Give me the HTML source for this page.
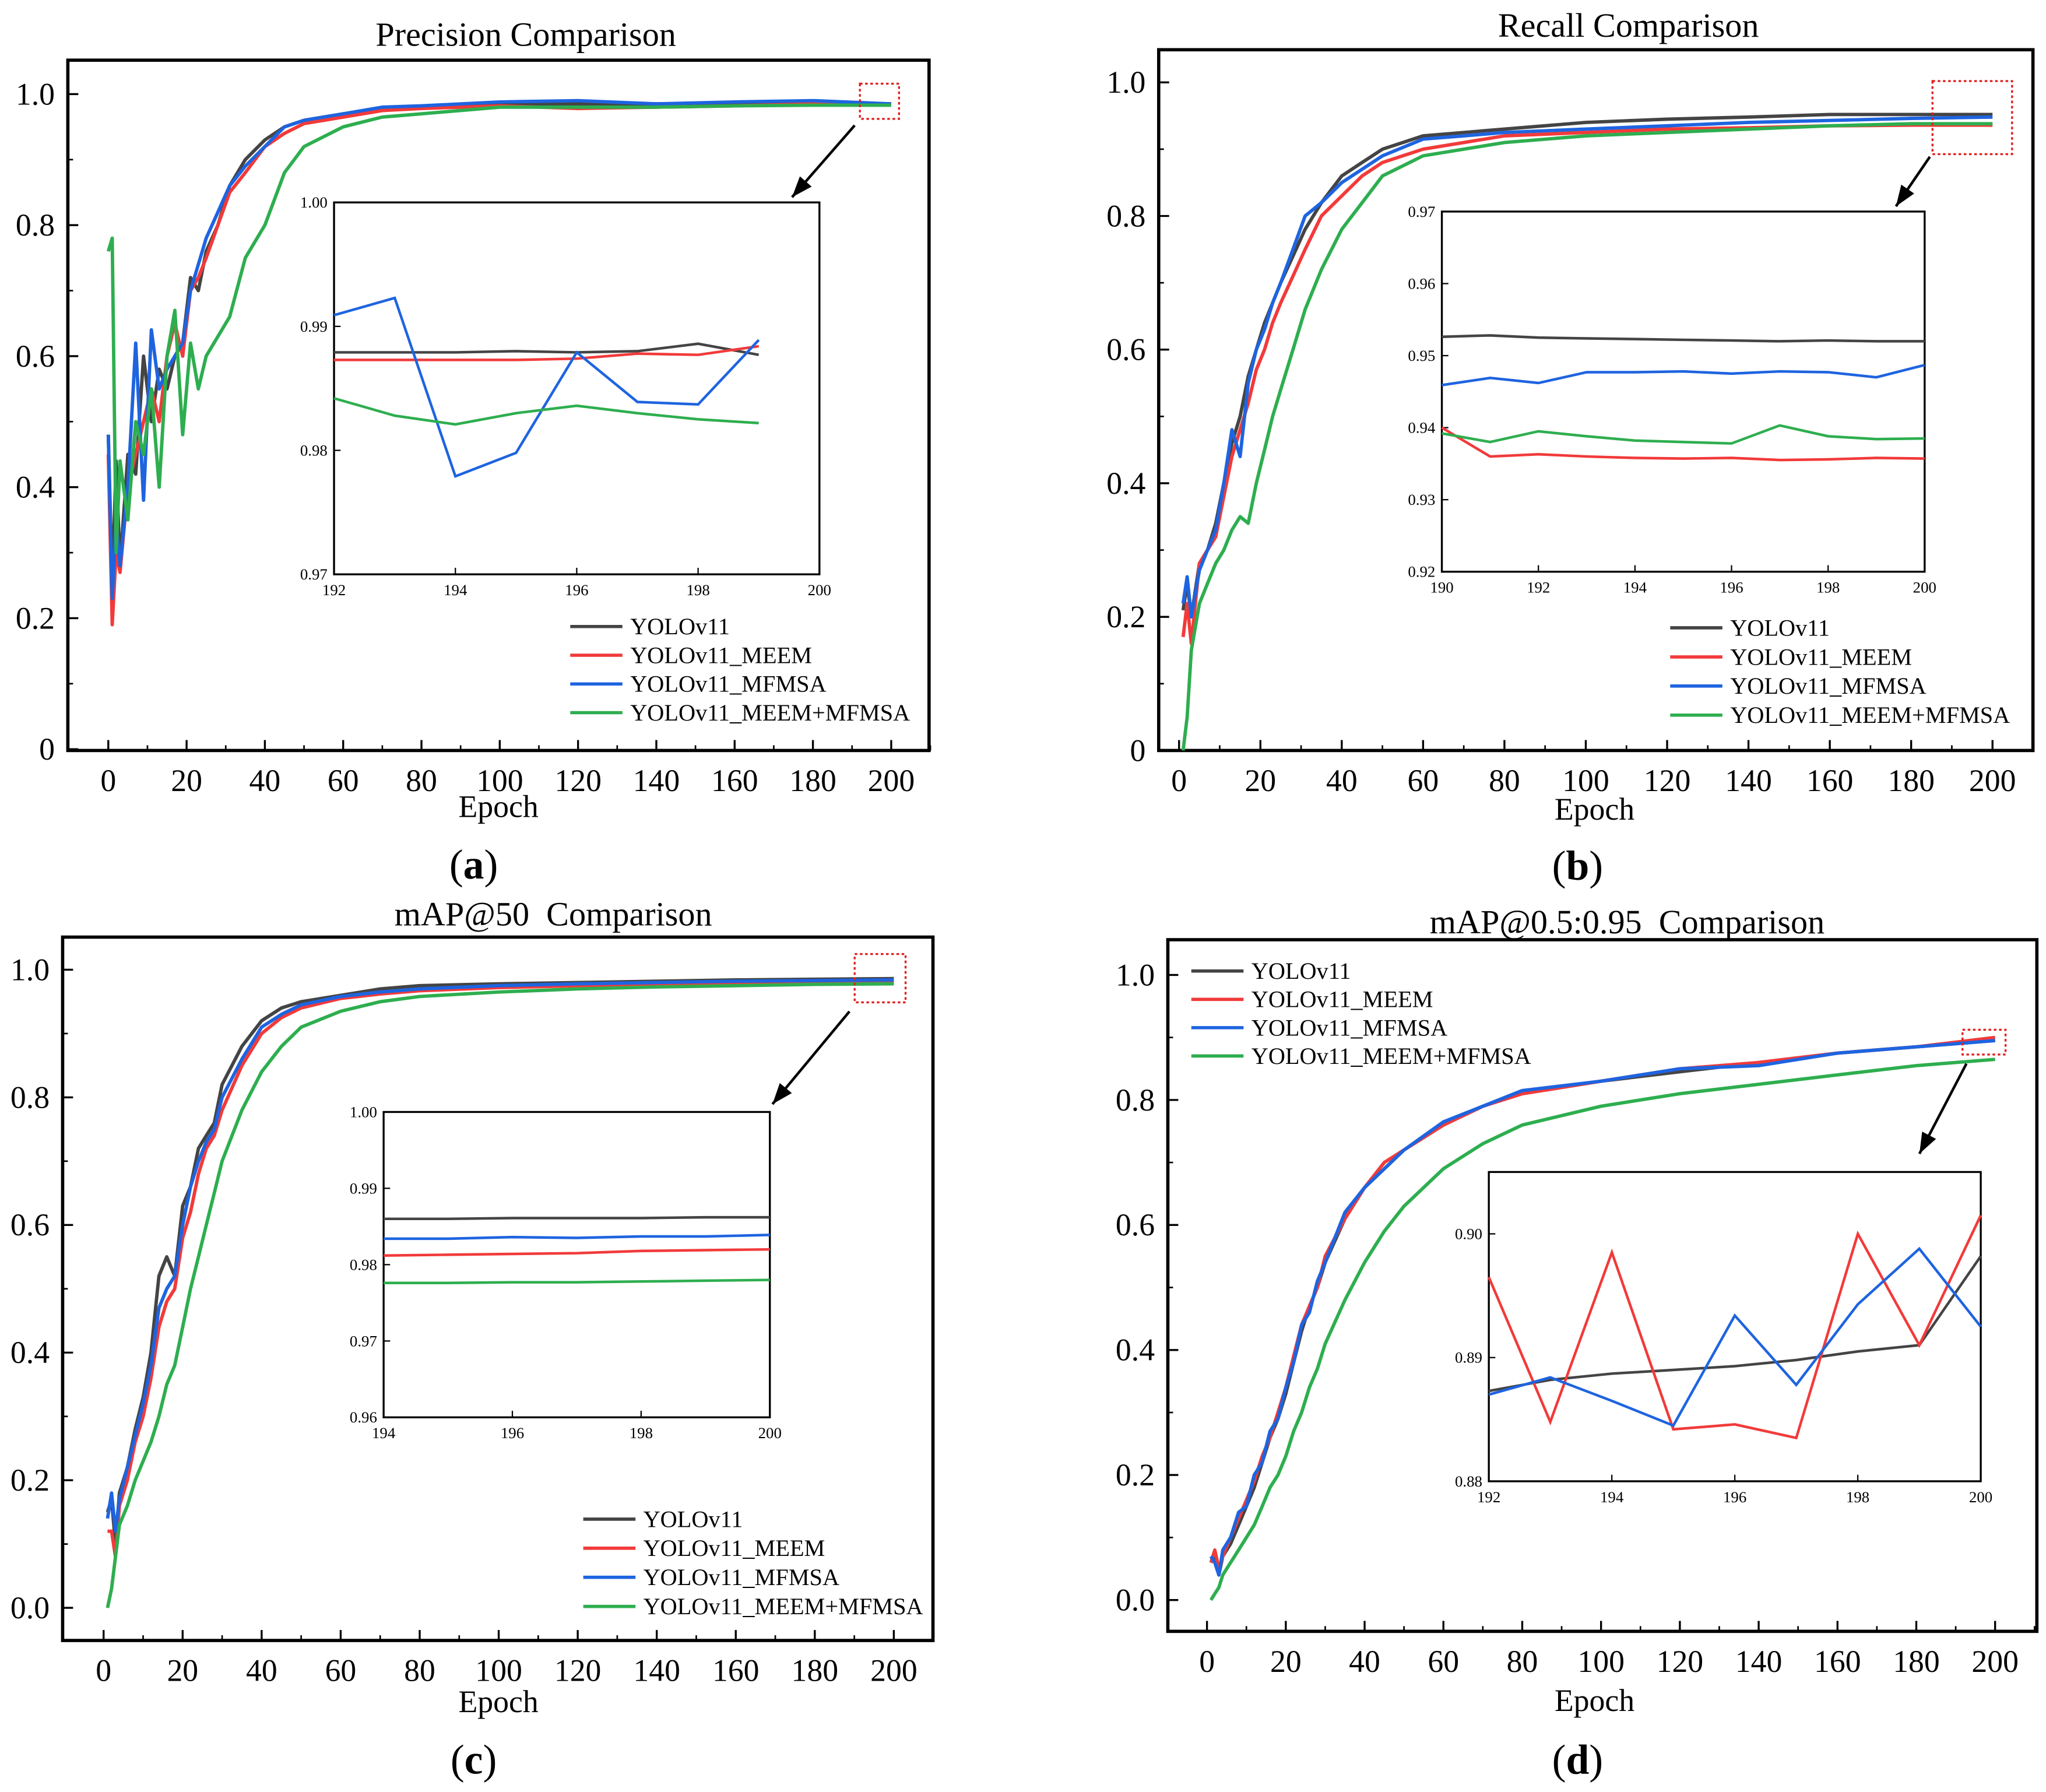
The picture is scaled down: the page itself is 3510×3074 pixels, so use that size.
<!DOCTYPE html>
<html><head><meta charset="utf-8"><style>
html,body{margin:0;padding:0;background:#fff}
svg{display:block;font-family:"Liberation Serif",serif}
text{white-space:pre}
</style></head><body>
<svg id="fig" width="3510" height="3074" viewBox="0 0 1568 1373" xmlns="http://www.w3.org/2000/svg"></svg>
<script>
const seriesNames=["YOLOv11","YOLOv11_MEEM","YOLOv11_MFMSA","YOLOv11_MEEM+MFMSA"];
const xTicks=[0,20,40,60,80,100,120,140,160,180,200];
// (a) precision
const epochsA=[0,1,2,3,5,7,9,11,13,15,17,19,21,23,25,28,31,35,40,45,50,60,70,80,100,120,140,160,180,200];
const precYolo=[0.48,0.25,0.44,0.28,0.45,0.42,0.6,0.5,0.58,0.55,0.6,0.62,0.72,0.7,0.76,0.8,0.86,0.9,0.93,0.95,0.96,0.97,0.975,0.98,0.985,0.985,0.985,0.985,0.988,0.985];
const precMeem=[0.45,0.19,0.3,0.27,0.4,0.45,0.5,0.55,0.5,0.6,0.65,0.6,0.7,0.72,0.75,0.8,0.85,0.88,0.92,0.94,0.955,0.965,0.975,0.978,0.982,0.978,0.98,0.982,0.985,0.985];
const precMfmsa=[0.48,0.23,0.35,0.28,0.4,0.62,0.38,0.64,0.55,0.58,0.6,0.62,0.7,0.74,0.78,0.82,0.86,0.89,0.92,0.95,0.96,0.97,0.98,0.982,0.988,0.99,0.985,0.988,0.99,0.985];
const precBoth=[0.76,0.78,0.3,0.44,0.35,0.5,0.45,0.55,0.4,0.6,0.67,0.48,0.62,0.55,0.6,0.63,0.66,0.75,0.8,0.88,0.92,0.95,0.965,0.97,0.98,0.98,0.98,0.982,0.983,0.983];
const insetEpochsA=[192,193,194,195,196,197,198,199];
const insPrecYolo=[0.9879,0.9879,0.9879,0.988,0.9879,0.988,0.9886,0.9877];
const insPrecMeem=[0.9873,0.9873,0.9873,0.9873,0.9874,0.9878,0.9877,0.9884];
const insPrecMfmsa=[0.9909,0.9923,0.9779,0.9798,0.9879,0.9839,0.9837,0.9889];
const insPrecBoth=[0.9842,0.9828,0.9821,0.983,0.9836,0.983,0.9825,0.9822];
// (b) recall
const epochsB=[1,2,3,5,7,9,11,13,15,17,19,21,23,25,28,31,35,40,45,50,60,70,80,100,120,140,160,180,200];
const recYolo=[0.21,0.25,0.2,0.28,0.3,0.34,0.4,0.46,0.5,0.56,0.6,0.64,0.67,0.7,0.74,0.78,0.82,0.86,0.88,0.9,0.92,0.925,0.93,0.94,0.945,0.948,0.952,0.952,0.952];
const recMeem=[0.17,0.22,0.16,0.28,0.3,0.32,0.38,0.44,0.48,0.52,0.57,0.6,0.64,0.67,0.71,0.75,0.8,0.83,0.86,0.88,0.9,0.91,0.92,0.925,0.93,0.932,0.935,0.936,0.936];
const recMfmsa=[0.22,0.26,0.2,0.27,0.3,0.33,0.4,0.48,0.44,0.55,0.6,0.63,0.67,0.7,0.75,0.8,0.82,0.85,0.87,0.89,0.915,0.92,0.925,0.93,0.935,0.94,0.943,0.946,0.948];
const recBoth=[0.0,0.05,0.15,0.22,0.25,0.28,0.3,0.33,0.35,0.34,0.4,0.45,0.5,0.54,0.6,0.66,0.72,0.78,0.82,0.86,0.89,0.9,0.91,0.92,0.925,0.93,0.935,0.938,0.938];
const insetEpochsB=[190,191,192,193,194,195,196,197,198,199,200];
const insRecYolo=[0.9526,0.9528,0.9525,0.9524,0.9523,0.9522,0.9521,0.952,0.9521,0.952,0.952];
const insRecMeem=[0.94,0.936,0.9363,0.936,0.9358,0.9357,0.9358,0.9355,0.9356,0.9358,0.9357];
const insRecMfmsa=[0.9459,0.9469,0.9462,0.9477,0.9477,0.9478,0.9475,0.9478,0.9477,0.947,0.9487];
const insRecBoth=[0.9392,0.938,0.9395,0.9388,0.9382,0.938,0.9378,0.9403,0.9388,0.9384,0.9385];
// (c) mAP50
const epochsC=[1,2,3,4,6,8,10,12,14,16,18,20,22,24,26,28,30,35,40,45,50,60,70,80,100,120,140,160,180,200];
const m50Yolo=[0.15,0.17,0.1,0.18,0.22,0.28,0.33,0.4,0.52,0.55,0.52,0.63,0.66,0.72,0.74,0.76,0.82,0.88,0.92,0.94,0.95,0.96,0.97,0.975,0.978,0.98,0.982,0.984,0.985,0.986];
const m50Meem=[0.12,0.12,0.08,0.16,0.2,0.26,0.3,0.36,0.44,0.48,0.5,0.58,0.62,0.68,0.72,0.74,0.78,0.85,0.9,0.925,0.94,0.955,0.962,0.967,0.972,0.975,0.977,0.979,0.981,0.982];
const m50Mfmsa=[0.14,0.18,0.12,0.17,0.22,0.27,0.32,0.38,0.47,0.5,0.52,0.6,0.66,0.7,0.73,0.75,0.8,0.86,0.91,0.93,0.945,0.958,0.965,0.97,0.975,0.978,0.98,0.982,0.983,0.984];
const m50Both=[0.0,0.03,0.08,0.13,0.16,0.2,0.23,0.26,0.3,0.35,0.38,0.44,0.5,0.55,0.6,0.65,0.7,0.78,0.84,0.88,0.91,0.935,0.95,0.958,0.965,0.97,0.973,0.975,0.977,0.978];
const insetEpochsC=[194,195,196,197,198,199,200];
const insM50Yolo=[0.986,0.986,0.9861,0.9861,0.9861,0.9862,0.9862];
const insM50Meem=[0.9812,0.9813,0.9814,0.9815,0.9818,0.9819,0.982];
const insM50Mfmsa=[0.9834,0.9834,0.9836,0.9835,0.9837,0.9837,0.9839];
const insM50Both=[0.9776,0.9776,0.9777,0.9777,0.9778,0.9779,0.978];
// (d) mAP50-95
const epochsD=[1,2,3,4,6,8,10,12,14,16,18,20,22,24,26,28,30,35,40,45,50,60,70,80,100,120,140,160,180,200];
const mYolo=[0.06,0.07,0.04,0.07,0.09,0.12,0.15,0.18,0.22,0.26,0.29,0.33,0.38,0.43,0.47,0.5,0.54,0.61,0.66,0.69,0.72,0.76,0.79,0.81,0.83,0.845,0.86,0.875,0.885,0.895];
const mMeem=[0.06,0.08,0.05,0.07,0.1,0.13,0.16,0.19,0.23,0.26,0.3,0.34,0.39,0.44,0.47,0.5,0.55,0.61,0.66,0.7,0.72,0.76,0.79,0.81,0.83,0.85,0.86,0.875,0.885,0.9];
const mMfmsa=[0.07,0.06,0.04,0.08,0.1,0.14,0.15,0.2,0.22,0.27,0.29,0.34,0.38,0.44,0.46,0.51,0.54,0.62,0.66,0.69,0.72,0.765,0.79,0.815,0.83,0.85,0.855,0.875,0.885,0.895];
const mBoth=[0.0,0.01,0.02,0.04,0.06,0.08,0.1,0.12,0.15,0.18,0.2,0.23,0.27,0.3,0.34,0.37,0.41,0.48,0.54,0.59,0.63,0.69,0.73,0.76,0.79,0.81,0.825,0.84,0.855,0.865];
const insetEpochsD=[192,193,194,195,196,197,198,199,200];
const insMYolo=[0.8873,0.8882,0.8887,0.889,0.8893,0.8898,0.8905,0.891,0.8982];
const insMMeem=[0.8965,0.8848,0.8985,0.8842,0.8846,0.8835,0.9,0.891,0.9015];
const insMMfmsa=[0.887,0.8884,0.8865,0.8845,0.8934,0.8878,0.8943,0.8988,0.8925];

const colors=["#444","#f23a3a","#1e64e0","#2eae4f"];
const svg=document.getElementById('fig');
const NS="http://www.w3.org/2000/svg";
function el(tag,attrs,parent,text){const e=document.createElementNS(NS,tag);for(const k in attrs)e.setAttribute(k,attrs[k]);if(text!==undefined)e.textContent=text;(parent||svg).appendChild(e);return e;}

function chart(o){
  const g=el('g',{});
  
  
  const sx=v=>o.x0+(v-0)*(o.x200-o.x0)/200;
  const sy=v=>o.y0-(v)*(o.y0-o.y1);
  el('rect',{x:o.bx,y:o.by,width:o.bw,height:o.bh,fill:'none',stroke:'#000','stroke-width':2.5},g);
  const t=el('text',{x:o.tx,y:o.ty,'text-anchor':'middle','font-size':26},g,o.title);
  
  const bottom=o.by+o.bh, left=o.bx;
  xTicks.forEach(v=>{
    el('line',{x1:sx(v),x2:sx(v),y1:bottom,y2:bottom-8,stroke:'#000','stroke-width':1.5},g);
    el('line',{x1:sx(v+10),x2:sx(v+10),y1:bottom,y2:bottom-4,stroke:'#000','stroke-width':1.2},g);
    const l=el('text',{x:sx(v),y:bottom+31,'text-anchor':'middle','font-size':24},g,String(v));
    
  });
  o.yTicks.forEach((v,i)=>{
    el('line',{x1:left,x2:left+8,y1:sy(v),y2:sy(v),stroke:'#000','stroke-width':1.5},g);
    if(i<o.yTicks.length-1)el('line',{x1:left,x2:left+4,y1:sy(v+0.1),y2:sy(v+0.1),stroke:'#000','stroke-width':1.2},g);
    const l=el('text',{x:left-10,y:sy(v)+8,'text-anchor':'end','font-size':24},g,o.yLabels[i]);
    
  });
  const xl=el('text',{x:o.ex,y:o.ey,'text-anchor':'middle','font-size':24},g,'Epoch');
  
  const pl=el('text',{x:o.px,y:o.py,'text-anchor':'middle','font-size':32},g);
  
  el('tspan',{},pl,'(');el('tspan',{'font-weight':'bold'},pl,o.letter);el('tspan',{},pl,')');
  o.series.forEach((s,i)=>{
    const d=o.epochs.map((e,k)=>(k?'L':'M')+sx(e).toFixed(1)+','+sy(s[k]).toFixed(1)).join('');
    const p=el('path',{d:d,fill:'none',stroke:colors[i],'stroke-width':2.6,'stroke-linejoin':'round'},g);
    
  });
  const zb=el('rect',{x:o.zb[0],y:o.zb[1],width:o.zb[2],height:o.zb[3],fill:'none',stroke:'#e02020','stroke-width':1.5,'stroke-dasharray':'2,2'},g);
  
  const [ax1,ay1,ax2,ay2]=o.arrow;
  el('line',{x1:ax1,y1:ay1,x2:ax2,y2:ay2,stroke:'#000','stroke-width':2},g);
  const ang=Math.atan2(ay2-ay1,ax2-ax1),L=16,W=6;
  const bx=ax2-L*Math.cos(ang),byy=ay2-L*Math.sin(ang);
  el('polygon',{points:`${ax2},${ay2} ${bx-W*Math.sin(ang)},${byy+W*Math.cos(ang)} ${bx+W*Math.sin(ang)},${byy-W*Math.cos(ang)}`,fill:'#000'},g);
  const I=o.inset;
  const ig=el('g',{},g);
  el('rect',{x:I.x,y:I.y,width:I.w,height:I.h,fill:'#fff',stroke:'#000','stroke-width':1.5},ig);
  const ix=v=>I.x+(v-I.xmin)/(I.xmax-I.xmin)*I.w;
  const iy=v=>I.y+I.h-(v-I.ymin)/(I.ymax-I.ymin)*I.h;
  I.xt.forEach(v=>{el('line',{x1:ix(v),x2:ix(v),y1:I.y+I.h,y2:I.y+I.h-5,stroke:'#000'},ig);
    const l=el('text',{x:ix(v),y:I.y+I.h+16,'text-anchor':'middle','font-size':12},ig,String(v));});
  I.yt.forEach((v,k)=>{el('line',{x1:I.x,x2:I.x+5,y1:iy(v),y2:iy(v),stroke:'#000'},ig);
    const l=el('text',{x:I.x-5,y:iy(v)+4,'text-anchor':'end','font-size':12},ig,I.yl[k]);});
  I.series.forEach((s,i)=>{if(!s)return;
    const d=I.epochs.map((e,k)=>(k?'L':'M')+ix(e).toFixed(1)+','+iy(s[k]).toFixed(1)).join('');
    const p=el('path',{d:d,fill:'none',stroke:colors[i],'stroke-width':2},ig);
    });
  const lg=el('g',{},g);
  seriesNames.forEach((n,i)=>{const y=o.leg[1]+i*o.leg[2];
    el('line',{x1:o.leg[0],x2:o.leg[0]+40,y1:y,y2:y,stroke:colors[i],'stroke-width':2.5},lg);
    const t=el('text',{x:o.leg[0]+46,y:y+6,'font-size':18},lg,n);});
}
const yt6=[0,0.2,0.4,0.6,0.8,1.0];
chart({id:'precision-chart',title:'Precision Comparison',tx:403,ty:35,bx:52,by:46,bw:660,bh:529,x0:83,x200:683,y0:574,y1:72,
  yTicks:yt6,yLabels:['0','0.2','0.4','0.6','0.8','1.0'],ex:382,ey:626,px:363,py:673,letter:'a',
  epochs:epochsA,series:[precYolo,precMeem,precMfmsa,precBoth],zb:[659,64,30,27],arrow:[655,96,607,151],
  inset:{x:256,y:155,w:372,h:285,xmin:192,xmax:200,ymin:0.97,ymax:1.0,xt:[192,194,196,198,200],yt:[0.97,0.98,0.99,1.0],yl:['0.97','0.98','0.99','1.00'],
    epochs:insetEpochsA,series:[insPrecYolo,insPrecMeem,insPrecMfmsa,insPrecBoth]},leg:[437,480,22]});
chart({id:'recall-chart',title:'Recall Comparison',tx:1248,ty:28,bx:888,by:38,bw:670,bh:537,x0:903.6,x200:1527,y0:575,y1:63,
  yTicks:yt6,yLabels:['0','0.2','0.4','0.6','0.8','1.0'],ex:1222,ey:628,px:1209,py:674,letter:'b',
  epochs:epochsB,series:[recYolo,recMeem,recMfmsa,recBoth],zb:[1481,62,61,56],arrow:[1479,120,1453,158],
  inset:{x:1105,y:162,w:370,h:276,xmin:190,xmax:200,ymin:0.92,ymax:0.97,xt:[190,192,194,196,198,200],yt:[0.92,0.93,0.94,0.95,0.96,0.97],yl:['0.92','0.93','0.94','0.95','0.96','0.97'],
    epochs:insetEpochsB,series:[insRecYolo,insRecMeem,insRecMfmsa,insRecBoth]},leg:[1280,481,22.3]});
chart({id:'map50-chart',title:'mAP@50  Comparison',tx:424,ty:709,bx:48,by:718,bw:667,bh:539,x0:79.4,x200:685,y0:1232,y1:743,
  yTicks:yt6,yLabels:['0.0','0.2','0.4','0.6','0.8','1.0'],ex:382,ey:1312,px:363,py:1359,letter:'c',
  epochs:epochsC,series:[m50Yolo,m50Meem,m50Mfmsa,m50Both],zb:[655,731,39,37],arrow:[651,775,592,846],
  inset:{x:294,y:852,w:296,h:234,xmin:194,xmax:200,ymin:0.96,ymax:1.0,xt:[194,196,198,200],yt:[0.96,0.97,0.98,0.99,1.0],yl:['0.96','0.97','0.98','0.99','1.00'],
    epochs:insetEpochsC,series:[insM50Yolo,insM50Meem,insM50Mfmsa,insM50Both]},leg:[447,1164,22.3]});
chart({id:'map50-95-chart',title:'mAP@0.5:0.95  Comparison',tx:1247,ty:715,bx:895,by:720,bw:666,bh:530,x0:925,x200:1529,y0:1226,y1:747,
  yTicks:yt6,yLabels:['0.0','0.2','0.4','0.6','0.8','1.0'],ex:1222,ey:1311,px:1209,py:1359,letter:'d',
  epochs:epochsD,series:[mYolo,mMeem,mMfmsa,mBoth],zb:[1504,789,33,19],arrow:[1507,815,1471,884],
  inset:{x:1141,y:898,w:377,h:237,xmin:192,xmax:200,ymin:0.88,ymax:0.905,xt:[192,194,196,198,200],yt:[0.88,0.89,0.90],yl:['0.88','0.89','0.90'],
    epochs:insetEpochsD,series:[insMYolo,insMMeem,insMMfmsa,null]},leg:[913,744,21.7]});
</script>
</body></html>
